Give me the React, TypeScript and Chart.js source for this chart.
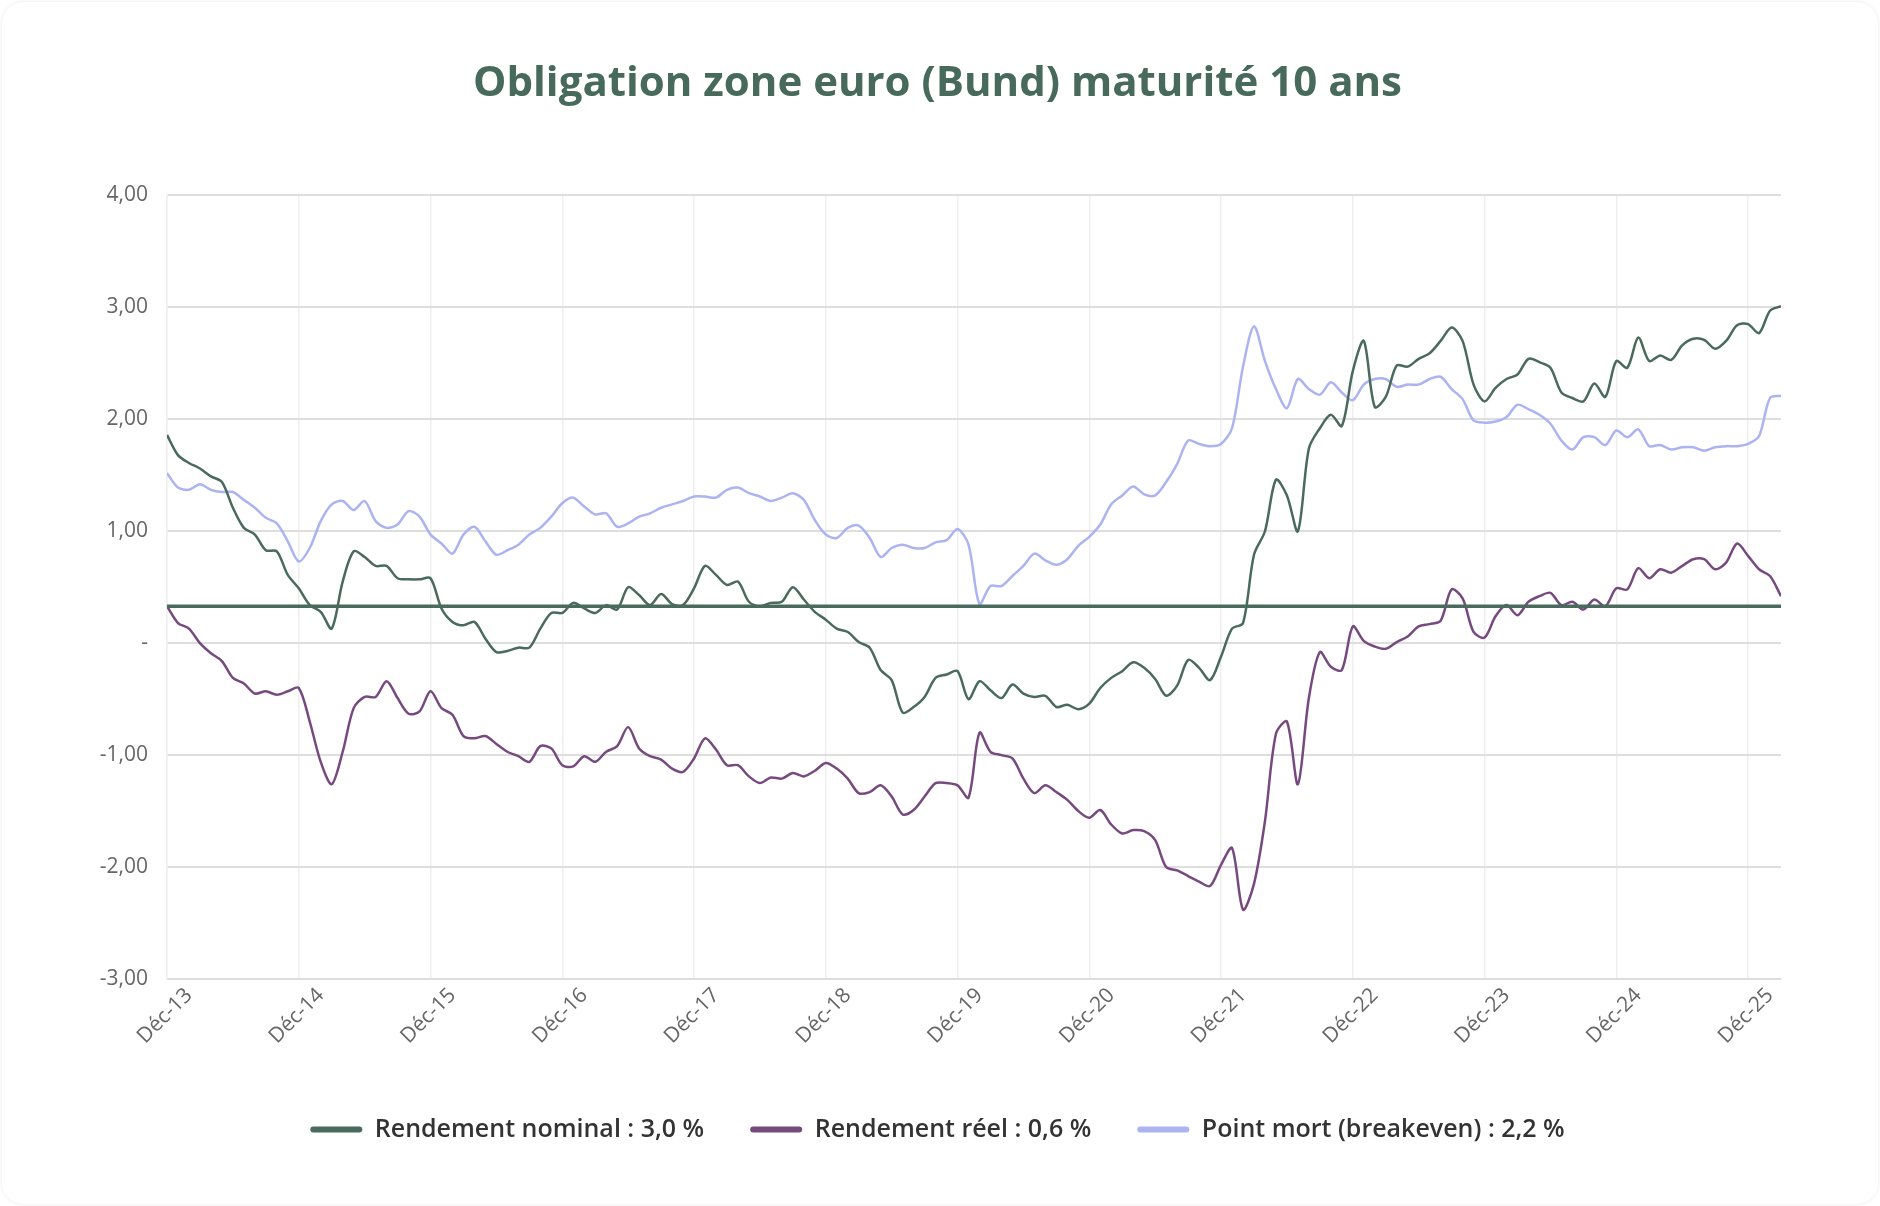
import { useEffect, useRef } from 'react'
import { Chart, registerables } from 'chart.js'

Chart.register(...registerables)

// months since Déc-13 (0 = Déc-13, 147 = Mar-26)
const monthOffsets = Array.from({ length: 148 }, (_, i) => i)

const tickMonths = [0, 12, 24, 36, 48, 60, 72, 84, 96, 108, 120, 132, 144]
const tickLabels = ['Déc-13', 'Déc-14', 'Déc-15', 'Déc-16', 'Déc-17', 'Déc-18', 'Déc-19', 'Déc-20', 'Déc-21', 'Déc-22', 'Déc-23', 'Déc-24', 'Déc-25']

const nominal = [
  1.86, 1.68, 1.61, 1.56, 1.49, 1.44, 1.21, 1.03, 0.97, 0.83, 0.82, 0.61,
  0.49, 0.34, 0.28, 0.13, 0.55, 0.82, 0.77, 0.69, 0.69, 0.58, 0.57, 0.57,
  0.58, 0.31, 0.19, 0.16, 0.19, 0.04, -0.08, -0.07, -0.04, -0.04, 0.13, 0.27,
  0.27, 0.36, 0.31, 0.27, 0.34, 0.30, 0.50, 0.43, 0.34, 0.44, 0.35, 0.34,
  0.49, 0.69, 0.61, 0.52, 0.55, 0.37, 0.33, 0.36, 0.37, 0.50, 0.39, 0.28,
  0.21, 0.13, 0.10, 0.01, -0.04, -0.24, -0.33, -0.62, -0.57, -0.48, -0.31, -0.28,
  -0.25, -0.50, -0.34, -0.42, -0.49, -0.37, -0.45, -0.48, -0.47, -0.57, -0.55, -0.59,
  -0.54, -0.40, -0.31, -0.25, -0.17, -0.22, -0.32, -0.47, -0.38, -0.15, -0.22, -0.33,
  -0.12, 0.13, 0.18, 0.79, 1.00, 1.46, 1.32, 1.00, 1.74, 1.92, 2.04, 1.94,
  2.43, 2.70, 2.11, 2.20, 2.48, 2.47, 2.54, 2.59, 2.70, 2.82, 2.70, 2.31,
  2.16, 2.28, 2.36, 2.40, 2.54, 2.51, 2.46, 2.24, 2.19, 2.16, 2.32, 2.20,
  2.52, 2.46, 2.73, 2.52, 2.57, 2.53, 2.66, 2.72, 2.71, 2.63, 2.70, 2.84,
  2.85, 2.77, 2.97, 3.01,
]

const real = [
  0.33, 0.18, 0.13, 0.00, -0.09, -0.16, -0.31, -0.36, -0.45, -0.43, -0.46, -0.43,
  -0.40, -0.70, -1.06, -1.26, -0.97, -0.58, -0.48, -0.48, -0.34, -0.49, -0.63, -0.61,
  -0.43, -0.58, -0.64, -0.83, -0.85, -0.83, -0.90, -0.97, -1.01, -1.06, -0.92, -0.94,
  -1.09, -1.10, -1.01, -1.06, -0.97, -0.92, -0.75, -0.94, -1.01, -1.04, -1.12, -1.15,
  -1.03, -0.85, -0.95, -1.09, -1.09, -1.19, -1.25, -1.20, -1.21, -1.16, -1.19, -1.14,
  -1.07, -1.12, -1.21, -1.34, -1.33, -1.27, -1.37, -1.53, -1.49, -1.37, -1.25, -1.25,
  -1.27, -1.38, -0.80, -0.97, -1.00, -1.03, -1.21, -1.34, -1.27, -1.33, -1.40, -1.50,
  -1.56, -1.49, -1.62, -1.70, -1.67, -1.68, -1.76, -2.00, -2.03, -2.08, -2.13, -2.17,
  -1.98, -1.83, -2.38, -2.15, -1.59, -0.81, -0.70, -1.26, -0.49, -0.08, -0.21, -0.24,
  0.15, 0.02, -0.03, -0.05, 0.01, 0.06, 0.15, 0.17, 0.20, 0.48, 0.40, 0.10,
  0.05, 0.24, 0.34, 0.25, 0.37, 0.42, 0.45, 0.34, 0.37, 0.30, 0.39, 0.33,
  0.49, 0.48, 0.67, 0.58, 0.66, 0.63, 0.69, 0.75, 0.75, 0.66, 0.72, 0.89,
  0.78, 0.66, 0.60, 0.42,
]

const breakeven = [
  1.52, 1.39, 1.37, 1.42, 1.37, 1.35, 1.35, 1.28, 1.21, 1.12, 1.07, 0.91,
  0.73, 0.85, 1.09, 1.24, 1.27, 1.19, 1.27, 1.09, 1.03, 1.06, 1.18, 1.13,
  0.97, 0.89, 0.80, 0.97, 1.04, 0.91, 0.79, 0.83, 0.88, 0.97, 1.03, 1.13,
  1.25, 1.30, 1.22, 1.15, 1.16, 1.04, 1.07, 1.13, 1.16, 1.21, 1.24, 1.27,
  1.31, 1.31, 1.30, 1.37, 1.39, 1.34, 1.31, 1.27, 1.30, 1.34, 1.28, 1.10,
  0.97, 0.94, 1.03, 1.05, 0.94, 0.77, 0.85, 0.88, 0.85, 0.85, 0.90, 0.92,
  1.02, 0.88, 0.35, 0.51, 0.51, 0.60, 0.69, 0.80, 0.74, 0.70, 0.75, 0.87,
  0.95, 1.06, 1.24, 1.32, 1.40, 1.33, 1.32, 1.44, 1.60, 1.81, 1.78, 1.76,
  1.78, 1.92, 2.47, 2.83, 2.52, 2.27, 2.10, 2.36, 2.27, 2.22, 2.33, 2.24,
  2.17, 2.31, 2.36, 2.36, 2.29, 2.31, 2.31, 2.36, 2.38, 2.27, 2.18, 1.99,
  1.97, 1.98, 2.02, 2.13, 2.09, 2.04, 1.96, 1.81, 1.73, 1.84, 1.84, 1.77,
  1.90, 1.84, 1.91, 1.76, 1.77, 1.73, 1.75, 1.75, 1.72, 1.75, 1.76, 1.76,
  1.78, 1.85, 2.19, 2.21,
]

const referenceLevel = 0.33

const seriesLabels = ['Rendement nominal : 3,0 %', 'Rendement réel : 0,6 %', 'Point mort (breakeven) : 2,2 %']
const seriesColors = ['#496a5c', '#764a7e', '#abb4f1']

const toPoints = (values: number[]) => values.map((y, i) => ({ x: monthOffsets[i], y }))

export default function App() {
  const chartRef = useRef<HTMLCanvasElement>(null)
  const chartInstance = useRef<Chart | null>(null)

  useEffect(() => {
    if (!chartRef.current) return
    const ctx = chartRef.current.getContext('2d')
    if (!ctx) return

    Chart.defaults.font.family = "'Open Sans', sans-serif"

    const lineStyle = (color: string, order: number) => ({
      borderColor: color,
      backgroundColor: color,
      borderWidth: 2.5,
      pointRadius: 0,
      tension: 0.3,
      order,
    })

    chartInstance.current = new Chart(ctx, {
      type: 'line',
      data: {
        datasets: [
          { label: seriesLabels[0], data: toPoints(nominal), ...lineStyle(seriesColors[0], 1) },
          { label: seriesLabels[1], data: toPoints(real), ...lineStyle(seriesColors[1], 2) },
          { label: seriesLabels[2], data: toPoints(breakeven), ...lineStyle(seriesColors[2], 3) },
          {
            label: 'ref',
            data: monthOffsets.map(x => ({ x, y: referenceLevel })),
            borderColor: seriesColors[0],
            backgroundColor: seriesColors[0],
            borderWidth: 3.5,
            pointRadius: 0,
            order: 0,
          },
        ],
      },
      options: {
        animation: false,
        responsive: true,
        maintainAspectRatio: false,
        layout: {
          padding: { left: 94, right: 99, top: 0, bottom: 54 },
        },
        plugins: {
          tooltip: { enabled: false },
          title: {
            display: true,
            text: 'Obligation zone euro (Bund) maturité 10 ans',
            color: '#476a5c',
            font: { size: 42, weight: 'bold' },
            padding: { top: 59, bottom: 86 },
          },
          legend: {
            position: 'bottom',
            labels: {
              color: '#333333',
              font: { size: 25, weight: '600' },
              boxWidth: 52,
              boxHeight: 6,
              padding: 46,
              useBorderRadius: true,
              borderRadius: 3,
              filter: (item: any) => item.datasetIndex !== 3,
              generateLabels: (chart: any) =>
                Chart.defaults.plugins.legend.labels.generateLabels(chart).map((item: any) => ({
                  ...item,
                  lineWidth: 0,
                })),
            },
          },
        },
        scales: {
          x: {
            type: 'linear',
            min: 0,
            max: 147,
            afterBuildTicks: (scale: any) => {
              scale.ticks = tickMonths.map(value => ({ value }))
            },
            afterFit: (scale: any) => {
              scale.height = 92
            },
            ticks: {
              callback: (value: any) => tickLabels[tickMonths.indexOf(value)] ?? '',
              minRotation: 45,
              maxRotation: 45,
              labelOffset: 22,
              padding: 4,
              color: '#666666',
              font: { size: 21 },
              autoSkip: false,
            },
            grid: { color: '#efefef', lineWidth: 1.5, drawTicks: false },
            border: { color: '#dddddd', width: 2 },
          },
          y: {
            min: -3,
            max: 4,
            afterFit: (scale: any) => {
              scale.width = 73
            },
            ticks: {
              stepSize: 1,
              padding: 19,
              color: '#666666',
              font: { size: 21 },
              callback: (value: any) => (value === 0 ? '-' : Number(value).toFixed(2).replace('.', ',')),
            },
            grid: { color: '#dedede', lineWidth: 2, drawTicks: false },
            border: { color: '#efefef', width: 1.5 },
          },
        },
      },
    } as any)

    return () => {
      if (chartInstance.current) {
        chartInstance.current.destroy()
        chartInstance.current = null
      }
    }
  }, [])

  return (
    <div style={{ position: 'absolute', left: 0, top: 0, width: 1880, height: 1206, background: '#ffffff' }}>
      <div
        style={{
          position: 'absolute',
          left: 2,
          top: 2,
          width: 1876,
          height: 1202,
          borderRadius: 22,
          background: '#ffffff',
          boxShadow: '0 0 5px rgba(0,0,0,0.08)',
        }}
      />
      <div style={{ position: 'absolute', left: 0, top: 0, width: 1880, height: 1206 }}>
        <canvas ref={chartRef} />
      </div>
    </div>
  )
}
